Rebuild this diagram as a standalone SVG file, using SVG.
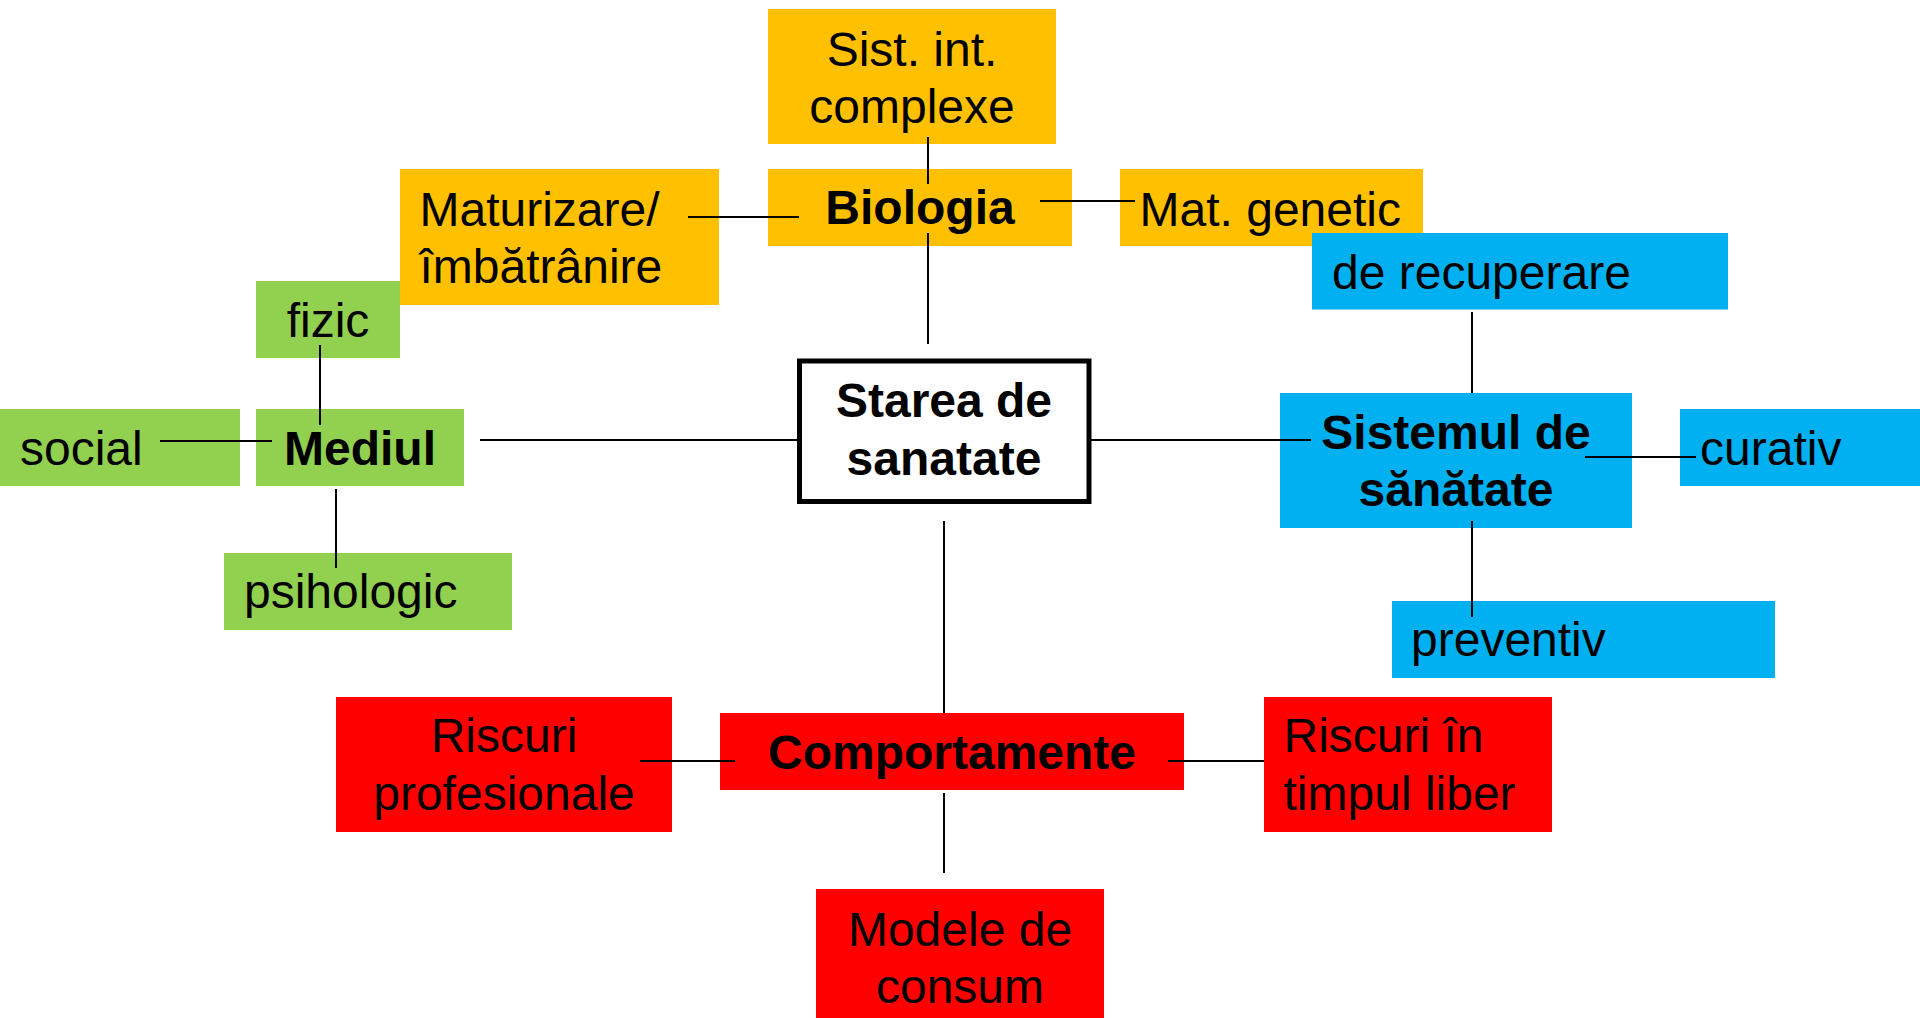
<svg xmlns="http://www.w3.org/2000/svg" width="1920" height="1018" viewBox="0 0 1920 1018">
<style>
.t{font-family:"Liberation Sans",Arial,sans-serif;font-size:48px;fill:#000}
.b{font-weight:bold}
.m{text-anchor:middle}
.y{fill:#FFC000}
.g{fill:#92D050}
.bl{fill:#00B0F0}
.r{fill:#FF0000}
.ln{stroke:#000;stroke-width:2;fill:none}
</style>
<rect width="1920" height="1018" fill="#fff"/>
<g id="sist-int"><rect class="y" x="768" y="9" width="288" height="135"/><text class="t m" x="912" y="65.5">Sist. int.</text><text class="t m" x="912" y="123">complexe</text></g>
<g id="maturizare"><rect class="y" x="400" y="169" width="319" height="136"/><text class="t" x="419.5" y="225.5">Maturizare/</text><text class="t" x="419.5" y="283">îmbătrânire</text></g>
<g id="biologia"><rect class="y" x="768" y="169" width="304" height="77"/><text class="t b m" x="920" y="224">Biologia</text></g>
<g id="mat-genetic"><rect class="y" x="1120" y="169" width="303" height="77"/><text class="t" x="1139.5" y="225.5">Mat. genetic</text></g>
<g id="de-recuperare"><rect class="bl" x="1312" y="233" width="416" height="76.5"/><text class="t" x="1332" y="289">de recuperare</text></g>
<g id="fizic"><rect class="g" x="256" y="281" width="144" height="77"/><text class="t m" x="328" y="337">fizic</text></g>
<g id="social"><rect class="g" x="0" y="409" width="240" height="77"/><text class="t" x="20" y="464.5">social</text></g>
<g id="mediul"><rect class="g" x="256" y="409" width="208" height="77"/><text class="t b m" x="360" y="464.5">Mediul</text></g>
<g id="psihologic"><rect class="g" x="224" y="553" width="288" height="77"/><text class="t" x="244" y="608">psihologic</text></g>
<g id="starea"><rect x="799.5" y="361" width="289.5" height="140.5" fill="#fff" stroke="#000" stroke-width="5"/><text class="t b m" x="944" y="417">Starea de</text><text class="t b m" x="944" y="474.5">sanatate</text></g>
<g id="sistemul"><rect class="bl" x="1280" y="393" width="352" height="135"/><text class="t b m" x="1456" y="449">Sistemul de</text><text class="t b m" x="1456" y="506">sănătate</text></g>
<g id="curativ"><rect class="bl" x="1680" y="409" width="240" height="77"/><text class="t" x="1700" y="465">curativ</text></g>
<g id="preventiv"><rect class="bl" x="1392" y="601" width="383" height="77"/><text class="t" x="1411" y="656">preventiv</text></g>
<g id="riscuri-prof"><rect class="r" x="336" y="697" width="336" height="135"/><text class="t m" x="504" y="752">Riscuri</text><text class="t m" x="504" y="809.5">profesionale</text></g>
<g id="comportamente"><rect class="r" x="720" y="713" width="464" height="77"/><text class="t b m" x="952" y="769">Comportamente</text></g>
<g id="riscuri-liber"><rect class="r" x="1264" y="697" width="288" height="135"/><text class="t" x="1283.5" y="752">Riscuri în</text><text class="t" x="1283.5" y="809.5">timpul liber</text></g>
<g id="modele"><rect class="r" x="816" y="889" width="288" height="135"/><text class="t m" x="960" y="945.5">Modele de</text><text class="t m" x="960" y="1003">consum</text></g>
<g id="connectors" class="ln">
<line x1="928" y1="137" x2="928" y2="184"/>
<line x1="928" y1="233" x2="928" y2="344"/>
<line x1="688" y1="217" x2="799" y2="217"/>
<line x1="1040" y1="201" x2="1135" y2="201"/>
<line x1="480" y1="440" x2="797" y2="440"/>
<line x1="320" y1="345" x2="320" y2="425"/>
<line x1="160" y1="441" x2="272" y2="441"/>
<line x1="336" y1="489" x2="336" y2="568"/>
<line x1="1090" y1="440" x2="1311" y2="440"/>
<line x1="1472" y1="312" x2="1472" y2="393"/>
<line x1="1585" y1="457" x2="1696" y2="457"/>
<line x1="1472" y1="521" x2="1472" y2="617"/>
<line x1="944" y1="521" x2="944" y2="713"/>
<line x1="640" y1="761" x2="735" y2="761"/>
<line x1="1168" y1="761" x2="1264" y2="761"/>
<line x1="944" y1="793" x2="944" y2="873"/>
</g>
</svg>
